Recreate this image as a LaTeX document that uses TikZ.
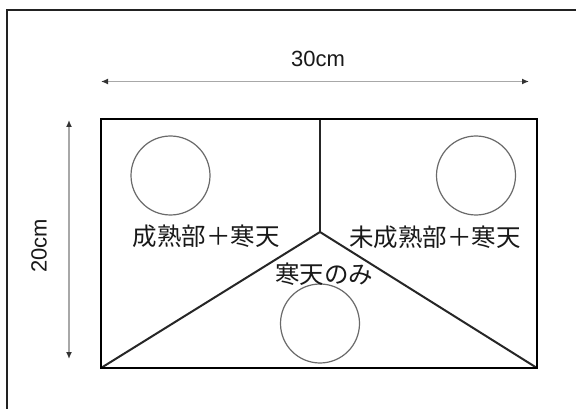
\documentclass[tikz,border=0pt]{standalone}
\usepackage{fontspec}
\setmainfont{Liberation Sans}
\newfontfamily\jpfont{Noto Sans CJK JP}
\usetikzlibrary{arrows.meta}
\definecolor{framegray}{HTML}{222222}
\definecolor{circgray}{HTML}{6A6A6A}
\definecolor{shaftgray}{HTML}{A8A8A8}
\definecolor{headgray}{HTML}{333333}
\tikzset{
  frame/.style={draw=framegray, line width=2pt},
  boxline/.style={draw=black, line width=2.4pt},
  divline/.style={draw=black!85, line width=2pt},
  dish/.style={circle, draw=circgray, line width=1.2pt, minimum size=79pt, inner sep=0pt},
  jplabel/.style={font=\jpfont\fontsize{24.5pt}{26pt}\selectfont, inner sep=0pt, text=black!90},
  dimlabel/.style={font=\fontsize{22pt}{24pt}\selectfont, inner sep=0pt, text=black!90},
  dimarrow/.style={draw=shaftgray, line width=1.4pt, {Latex[length=7pt,width=6pt,color=headgray]}-{Latex[length=7pt,width=6pt,color=headgray]}}
}
\begin{document}
\begin{tikzpicture}[x=1pt,y=-1pt]
\useasboundingbox (0,0) rectangle (576,409);
\fill[white] (0,0) rectangle (576,409);
% outer frame (left and top only)
\coordinate (fbl) at (7,409);
\coordinate (ftl) at (7,10);
\coordinate (ftr) at (576,10);
\draw[frame] (fbl) -- (ftl) -- (ftr);
% main box
\coordinate (tl) at (101,119);
\coordinate (tr) at (537,119);
\coordinate (br) at (537,368);
\coordinate (bl) at (101,368);
\coordinate (tm) at (320,119);
\coordinate (c) at (320,232);
\draw[divline] (tm) -- (c);
\draw[divline] (bl) -- (c) -- (br);
\draw[boxline] (tl) -- (tr) -- (br) -- (bl) -- cycle;
% dishes
\node[dish] (d1) at (170.5,175.5) {};
\node[dish] (d2) at (476,175.5) {};
\node[dish] (d3) at (320,323.5) {};
% labels
\node[jplabel] (l1) at (206,236) {成熟部＋寒天};
\node[jplabel] (l2) at (435,237) {未成熟部＋寒天};
\node[jplabel] (l3) at (324,274) {寒天のみ};
% dimensions
\coordinate (ha) at (101,81.5);
\coordinate (hb) at (529,81.5);
\draw[dimarrow] (ha) -- (hb);
\node[dimlabel] (w) at (318,59) {30cm};
\coordinate (va) at (69,120);
\coordinate (vb) at (69,359);
\draw[dimarrow] (va) -- (vb);
\node[dimlabel, rotate=90] (h) at (39,246) {20cm};
\end{tikzpicture}
\end{document}
